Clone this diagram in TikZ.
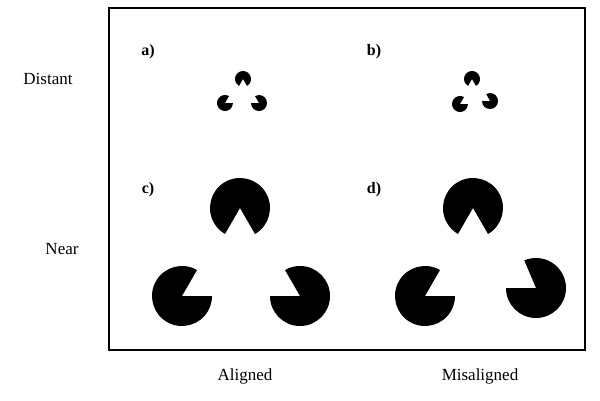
\documentclass[tikz,border=0pt]{standalone}
\usepackage{fontspec}
\setmainfont{Liberation Serif}
\begin{document}
\begin{tikzpicture}[x=1pt,y=-1pt,
  lbl/.style={font=\fontsize{17}{20}\selectfont},
  tag/.style={font=\bfseries\fontsize{16}{19}\selectfont},
  pac/.pic={}]
\useasboundingbox (0,0) rectangle (600,400);
\newcommand\pacman[5]{% x y r startangle endangle (wedge from..to, ccw math angles)
  \fill[black] (#1,#2) -- ++({#5}:{#3} and {-#3}) arc[start angle=#5, end angle=#4+360, x radius=#3, y radius=-#3] -- cycle;}
\draw[line width=1.3pt] (109,8) rectangle (585,350);
\node[lbl] (dist) at (48,79) {Distant};
\node[lbl] (near) at (62,249) {Near};
\node[lbl] (al) at (245,376) {Aligned};
\node[lbl] (mis) at (480,376) {Misaligned};
\node[tag] (ta) at (148,52) {a)};
\node[tag] (tb) at (374,52) {b)};
\node[tag] (tc) at (148,190) {c)};
\node[tag] (td) at (374,190) {d)};
% a)
\pacman{243}{79}{8}{240}{300}
\pacman{225}{103}{8}{0}{60}
\pacman{259}{103}{8}{120}{180}
% b)
\pacman{472}{79}{8}{240}{300}
\pacman{460}{104}{8}{0}{60}
\pacman{490}{101}{8}{118}{180}
% c)
\pacman{240}{208}{30}{240}{300}
\pacman{182}{296}{30}{0}{60}
\pacman{300}{296}{30}{120}{180}
% d)
\pacman{473}{208}{30}{240}{300}
\pacman{425}{296}{30}{0}{60}
\pacman{536}{288}{30}{113}{180}
\end{tikzpicture}
\end{document}
